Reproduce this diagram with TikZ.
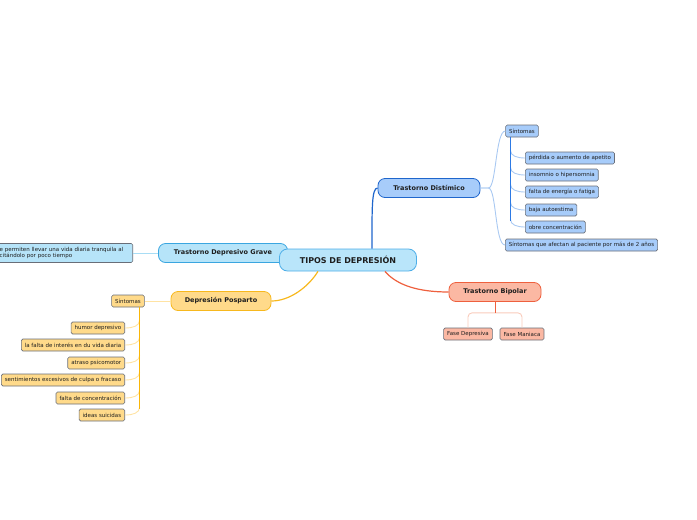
\documentclass[tikz,border=0pt]{standalone}
\usepackage{fontspec}
\setmainfont{DejaVu Sans}
\usepackage{tikz}
\usetikzlibrary{positioning, calc}
\definecolor{rootfill}{RGB}{185,229,250}
\definecolor{rootline}{RGB}{77,174,232}
\definecolor{distfill}{RGB}{167,204,250}
\definecolor{distline}{RGB}{31,102,204}
\definecolor{distbar}{RGB}{45,122,228}
\definecolor{distsoft}{RGB}{169,201,242}
\definecolor{gravefill}{RGB}{182,228,249}
\definecolor{graveline}{RGB}{58,166,224}
\definecolor{gravesoft}{RGB}{168,221,245}
\definecolor{pospfill}{RGB}{255,218,138}
\definecolor{pospline}{RGB}{247,184,30}
\definecolor{pospbar}{RGB}{250,182,8}
\definecolor{pospsoft}{RGB}{255,227,163}
\definecolor{bipfill}{RGB}{251,184,163}
\definecolor{bipline}{RGB}{238,96,62}
\definecolor{bipsoft}{RGB}{249,203,187}
\definecolor{leafedge}{RGB}{105,110,120}
\definecolor{ink}{RGB}{30,30,30}

\begin{document}
\begin{tikzpicture}[x=1pt, y=-1pt,
  topic/.style={draw, line width=0.8pt, rounded corners=7pt, minimum height=19pt,
                inner xsep=6pt, text=ink, font=\bfseries\fontsize{6.5}{7.5}\selectfont},
  leaf/.style={draw=leafedge, line width=0.6pt, rounded corners=1.5pt, minimum height=12pt,
               inner xsep=3.5pt, inner ysep=1pt, text=ink, font=\fontsize{5.5}{6.5}\selectfont},
  bar/.style={line width=1.6pt},
  twig/.style={line width=0.9pt},
]
  \useasboundingbox (0,0) rectangle (697,520);
  \clip (0,0) rectangle (697,520);

  % Main branches
  \node[topic, fill=distfill, draw=distline, minimum width=102pt] (dist) at (429,188) {Trastorno Distímico};
  \node[topic, fill=gravefill, draw=graveline, minimum width=129pt] (grave) at (223,253) {Trastorno Depresivo Grave};
  \node[topic, fill=pospfill, draw=pospline, minimum width=100pt] (posp) at (221,301) {Depresión Posparto};
  \node[topic, fill=bipfill, draw=bipline, minimum width=92pt] (bip) at (495,292) {Trastorno Bipolar};

  % Root
  \node[topic, fill=rootfill, draw=rootline, minimum width=137pt, minimum height=22pt,
        rounded corners=8pt, font=\bfseries\fontsize{8}{9}\selectfont] (root) at (348,260) {TIPOS DE DEPRESIÓN};

  % Root connectors
  \draw[distline, line width=1.2pt] ($(root.north)+(24,0)$) .. controls +(0,-40) and +(-6,0) .. (dist.west);
  \draw[pospline, line width=1.2pt] ($(root.south)+(-30,0)$) .. controls +(-10,16) and +(18,0) .. (posp.east);
  \draw[bipline, line width=1.2pt] ($(root.south)+(37,0)$) .. controls +(12,14) and +(-30,0) .. (bip.west);

  % Trastorno Distimico
  \node[leaf, fill=distfill] (dsint) at (522,131) {Síntomas};
  \node[leaf, fill=distfill, anchor=west] (d1) at (525,158) {pérdida o aumento de apetito};
  \node[leaf, fill=distfill, anchor=west] (d2) at (525,175) {insomnio o hipersomnia};
  \node[leaf, fill=distfill, anchor=west] (d3) at (525,192) {falta de energía o fatiga};
  \node[leaf, fill=distfill, anchor=west] (d4) at (525,210) {baja autoestima};
  \node[leaf, fill=distfill, anchor=west] (d5) at (525,227) {obre concentración};
  \node[leaf, fill=distfill, anchor=west] (dlong) at (505,245) {Síntomas que afectan al paciente por más de 2 años};

  \coordinate (dfork) at ($(dist.east)+(8,0)$);
  \draw[distsoft, twig] (dist.east) -- (dfork) .. controls +(8,0) and +(-10,0) .. (dsint.west);
  \draw[distsoft, twig] (dist.east) -- (dfork) .. controls +(8,0) and +(-10,0) .. (dlong.west);
  \coordinate (dtop) at ($(dsint.south west)+(5,0)$);
  \foreach \k in {d1,d2,d3,d4,d5}
    \draw[distsoft, twig] ($(dtop|-\k.west)+(0,-8)$) .. controls +(0,6) and +(-8,0) .. (\k.west);
  \draw[distbar, bar] (dtop) -- ($(dtop|-d5.west)+(0,-6)$);

  % Trastorno Depresivo Grave
  \node[leaf, fill=gravefill, anchor=east, align=left, text width=129pt, inner xsep=4pt,
        minimum height=19pt] (gdesc) at (133,253) {e permiten llevar una vida diaria tranquila al\\citándolo por poco tiempo};
  \draw[gravesoft, twig] (grave.west) -- (gdesc.east);

  % Depresion Posparto
  \node[leaf, fill=pospfill] (psint) at (128,301) {Síntomas};
  \node[leaf, fill=pospfill, anchor=east] (p1) at (125,328) {humor depresivo};
  \node[leaf, fill=pospfill, anchor=east] (p2) at (125,345) {la falta de interés en du vida diaria};
  \node[leaf, fill=pospfill, anchor=east] (p3) at (125,363) {atraso psicomotor};
  \node[leaf, fill=pospfill, anchor=east] (p4) at (125,380) {sentimientos excesivos de culpa o fracaso};
  \node[leaf, fill=pospfill, anchor=east] (p5) at (125,398) {falta de concentración};
  \node[leaf, fill=pospfill, anchor=east] (p6) at (125,415) {ideas suicidas};

  \draw[pospsoft, twig] (posp.west) -- (psint.east);
  \coordinate (ptop) at ($(psint.south east)+(-5,0)$);
  \foreach \k in {p1,p2,p3,p4,p5,p6}
    \draw[pospsoft, twig] ($(ptop|-\k.east)+(0,-8)$) .. controls +(0,6) and +(8,0) .. (\k.east);
  \draw[pospbar, bar] (ptop) -- ($(ptop|-p6.east)+(0,-6)$);

  % Trastorno Bipolar
  \node[leaf, fill=bipfill] (b1) at (468,334) {Fase Depresiva};
  \node[leaf, fill=bipfill] (b2) at (522,334) {Fase Maniaca};
  \coordinate (bfork) at ($(bip.south)+(0,11)$);
  \draw[bipsoft, twig, rounded corners=4pt] (bfork) -| (b1.north);
  \draw[bipsoft, twig, rounded corners=4pt] (bfork) -| (b2.north);
  \draw[bipline, line width=1pt] (bip.south) -- (bfork);
\end{tikzpicture}
\end{document}
